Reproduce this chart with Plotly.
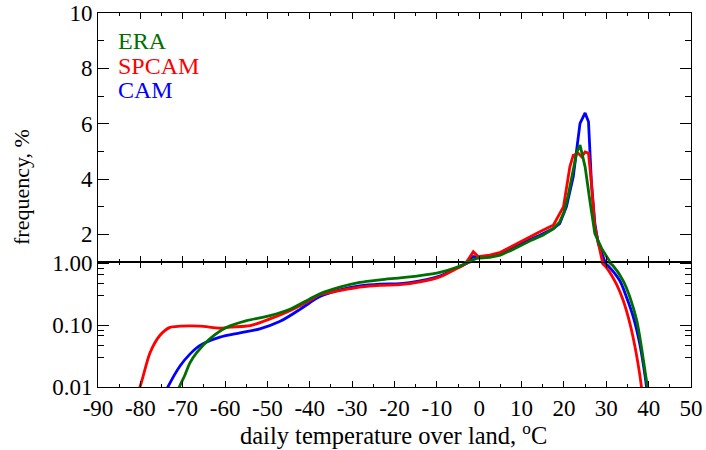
import plotly.graph_objects as go

# ---------------- data ----------------
era_temp = [-72, -70.8, -69.5, -68.3, -66.7, -63.6, -59.6, -54.9, -49.4, -44.7, -40, -37.6,
            -32.9, -28.2, -23.4, -18.7, -14, -9.3, -5.3, -3, -0.6, 2.5, 5, 7.5, 10, 12.5, 15,
            17.5, 19, 20, 21, 22, 23, 23.8, 25, 26.1, 27.3, 28.9, 30.9, 31.6, 34, 35.6, 37.2,
            38.3, 39.5, 39.8, 40.3]
era_freq = [0.006, 0.01, 0.0155, 0.0245, 0.036, 0.060, 0.092, 0.118, 0.142, 0.18, 0.265, 0.32,
            0.41, 0.49, 0.54, 0.58, 0.63, 0.71, 0.86, 1.0, 1.13, 1.17, 1.25, 1.42, 1.62, 1.8, 1.97,
            2.2, 2.45, 2.8, 3.4, 4.2, 4.95, 5.23, 4.44, 3.24, 2.03, 1.49, 1.0, 0.91, 0.52, 0.28,
            0.118, 0.044, 0.0126, 0.01, 0.006]

spcam_temp = [-82, -80.1, -77.7, -75.4, -73, -70.6, -65.9, -61.2, -58.8, -54.1, -49.4, -44.7,
              -40, -37.6, -32.9, -28.2, -23.4, -18.7, -14, -9.3, -5.3, -3, -1.4, -0.2, 2.5, 5,
              9.6, 14.3, 16.7, 17.5, 19.9, 21.4, 22.2, 23.4, 24.2, 25, 25.8, 26.5, 27.3, 28.1,
              29.1, 30, 32.4, 34, 35.6, 36.8, 37.9, 38.3, 38.7]
spcam_freq = [0.005, 0.01, 0.036, 0.068, 0.092, 0.096, 0.096, 0.089, 0.093, 0.098, 0.126, 0.171,
              0.25, 0.31, 0.36, 0.41, 0.44, 0.45, 0.50, 0.60, 0.82, 1.0, 1.37, 1.19, 1.25, 1.35,
              1.73, 2.09, 2.27, 2.33, 3.0, 4.44, 4.86, 4.93, 4.80, 4.98, 4.93, 3.84, 2.27, 1.67,
              1.0, 0.86, 0.46, 0.25, 0.105, 0.044, 0.016, 0.01, 0.006]

cam_temp = [-75, -73.5, -70.6, -68.3, -65.9, -61.2, -56.5, -51.8, -47, -42.3, -40, -37.6, -32.9,
            -28.2, -23.4, -18.7, -14, -9.3, -5.3, -3, -1.4, -0.2, 2.5, 5, 9.6, 14.3, 17.5, 19,
            20.6, 22.2, 23, 23.8, 25, 25.8, 26.5, 27.3, 28.1, 29.7, 30.4, 33.2, 34.8, 36.4, 37.9,
            39.1, 39.5, 39.9]
cam_freq = [0.006, 0.01, 0.022, 0.034, 0.047, 0.064, 0.075, 0.087, 0.115, 0.18, 0.23, 0.29, 0.37,
            0.43, 0.46, 0.47, 0.52, 0.62, 0.84, 1.0, 1.2, 1.17, 1.22, 1.3, 1.65, 1.97, 2.21, 2.39,
            3.0, 4.08, 5.05, 6.01, 6.39, 6.07, 3.84, 2.39, 1.67, 1.0, 0.91, 0.52, 0.28, 0.134,
            0.05, 0.016, 0.01, 0.006]

x_tick_vals = [-90, -80, -70, -60, -50, -40, -30, -20, -10, 0, 10, 20, 30, 40, 50]
x_tick_labels = ["-90", "-80", "-70", "-60", "-50", "-40", "-30", "-20", "-10", "0",
                 "10", "20", "30", "40", "50"]
x_minor_vals = [-85, -75, -65, -55, -45, -35, -25, -15, -5, 5, 15, 25, 35, 45]
top_tick_vals = [2, 4, 6, 8, 10]
top_tick_labels = ["2", "4", "6", "8", "10"]
log_tick_vals = [0.01, 0.1, 1.0]
log_tick_labels = ["0.01", "0.10", "1.00"]
log_minor_vals = [0.03, 0.047, 0.067, 0.083, 0.3, 0.47, 0.67, 0.83]

series = [
    ("CAM", cam_temp, cam_freq, "#0000ff"),
    ("SPCAM", spcam_temp, spcam_freq, "#ff0000"),
    ("ERA", era_temp, era_freq, "#006f00"),
]

FONT = "'Liberation Serif', 'Times New Roman', Times, serif"
fig = go.Figure()
for name, t, f, c in series:
    fig.add_trace(go.Scatter(x=t, y=f, mode="lines", name=name, xaxis="x2", yaxis="y2",
                             line=dict(color=c, width=2.8), showlegend=False))
    fig.add_trace(go.Scatter(x=t, y=f, mode="lines", name=name, xaxis="x", yaxis="y",
                             line=dict(color=c, width=2.8, shape="spline", smoothing=0.8),
                             showlegend=False))

split = 125 / 374
axis_common = dict(showline=True, linecolor="black", linewidth=1, mirror="ticks",
                   ticks="inside", tickcolor="black", tickwidth=1, showgrid=False,
                   zeroline=False, automargin=False,
                   tickfont=dict(family=FONT, size=23, color="black"))

fig.update_layout(
    width=706, height=450,
    margin=dict(l=98, r=15, t=13, b=63, autoexpand=False),
    paper_bgcolor="white", plot_bgcolor="white",
    font=dict(family=FONT, color="black"),
    xaxis=dict(domain=[0, 1], anchor="y", range=[-90, 50], tickmode="array",
               tickvals=x_tick_vals, ticktext=x_tick_labels, ticklen=6,
               minor=dict(tickmode="array", tickvals=x_minor_vals, ticklen=3,
                          ticks="inside", tickcolor="black"),
               **axis_common),
    xaxis2=dict(domain=[0, 1], anchor="y2", range=[-90, 50], matches="x",
                tickmode="array", tickvals=x_tick_vals, ticktext=x_tick_labels,
                showticklabels=False, ticklen=6,
                minor=dict(tickmode="array", tickvals=x_minor_vals, ticklen=3,
                           ticks="inside", tickcolor="black"),
                **axis_common),
    yaxis=dict(domain=[0, split], anchor="x", type="log", range=[-2, 0.02],
               tickmode="array", tickvals=log_tick_vals, ticktext=log_tick_labels, ticklen=11,
               minor=dict(tickmode="array", tickvals=log_minor_vals, ticklen=6,
                          ticks="inside", tickcolor="black"),
               **axis_common),
    yaxis2=dict(domain=[split, 1], anchor="x2", range=[1, 10],
                tickmode="array", tickvals=top_tick_vals, ticktext=top_tick_labels, ticklen=11,
                minor=dict(tickmode="linear", tick0=0, dtick=1, ticklen=6,
                           ticks="inside", tickcolor="black"),
                **axis_common),
)

# legend as coloured text
legend_y = [0.925, 0.858, 0.795]
for (name, c), yy in zip([("ERA", "#006f00"), ("SPCAM", "#ff0000"), ("CAM", "#0000ff")], legend_y):
    fig.add_annotation(text=name, xref="paper", yref="paper", x=0.031, y=yy,
                       xanchor="left", yanchor="middle", showarrow=False,
                       font=dict(family=FONT, size=24, color=c))

fig.add_annotation(text="daily temperature over land, <sup>o</sup>C", xref="paper", yref="paper",
                   x=0.499, y=-0.127, xanchor="center", yanchor="middle", showarrow=False,
                   font=dict(family=FONT, size=24.5, color="black"))
fig.add_annotation(text="frequency, %", xref="paper", yref="paper", x=-0.128, y=0.535,
                   xanchor="center", yanchor="middle", textangle=-90, showarrow=False,
                   font=dict(family=FONT, size=22, color="black"))

fig.write_html("out.html")
